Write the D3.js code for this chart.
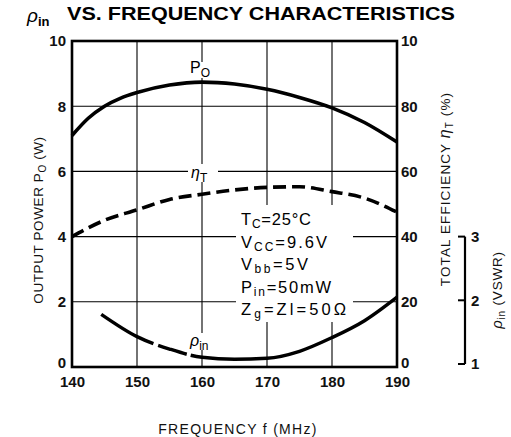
<!DOCTYPE html>
<html><head><meta charset="utf-8">
<script src="https://cdn.jsdelivr.net/npm/d3@7"></script>
<style>
body{margin:0;background:#fff;}
svg{display:block;font-family:"Liberation Sans",Arial,sans-serif;}
</style></head>
<body>
<svg id="c" width="511" height="437"></svg>
<script>
// ---- data ----
const xTicks = [140,150,160,170,180,190];
const leftTicks = [0,2,4,6,8,10];
const rightTickLabels = ["0","20","40","60","80","10"];
const vswrTicks = [1,2,3];

const poFreq = [140,142.5,145,147.5,150,155,160,165,170,175,180,185,190];
const poVal  = [7.1,7.63,8.0,8.25,8.42,8.65,8.74,8.68,8.52,8.27,7.95,7.5,6.9];

const etaFreq = [140,145,150,155,160,165,170,175,180,185,190];
const etaVal  = [40,45,48.2,51.4,53,54.3,55.1,55.3,53.8,51.8,47.5];

const rhoFreq = [144.5,150,155,160,165,170,175,180,185,190];
const rhoVal  = [1.78,1.43,1.235,1.105,1.075,1.09,1.2,1.415,1.68,2.05];

// ---- scales ----
const svg = d3.select("#c");
const x = d3.scaleLinear().domain([140,190]).range([72,397]);
const y = d3.scaleLinear().domain([0,10]).range([367,41]);
const yEta = d3.scaleLinear().domain([0,100]).range([367,41]);
const yV = d3.scaleLinear().domain([1,3]).range([y(0)-3,y(4)]);

// gridlines
const g = svg.append("g");
g.selectAll("line.v").data(xTicks.slice(1,-1)).join("line")
  .attr("x1",d=>x(d)).attr("x2",d=>x(d)).attr("y1",y(10)).attr("y2",y(0))
  .attr("stroke","#000").attr("stroke-width",1.1);
g.selectAll("line.h").data(leftTicks.slice(1,-1)).join("line")
  .attr("x1",x(140)).attr("x2",x(190)).attr("y1",d=>y(d)).attr("y2",d=>y(d))
  .attr("stroke","#000").attr("stroke-width",1.1);

// white label backgrounds breaking gridlines
const bg = [[236,205,117,117],[188,62,28,16],[188,164,30,18],[188,333,30,17]];
svg.selectAll("rect.bg").data(bg).join("rect")
  .attr("x",d=>d[0]).attr("y",d=>d[1]).attr("width",d=>d[2]).attr("height",d=>d[3]).attr("fill","#fff");

// frame
svg.append("rect").attr("x",x(140)).attr("y",y(10)).attr("width",x(190)-x(140)).attr("height",y(0)-y(10))
  .attr("fill","none").attr("stroke","#000").attr("stroke-width",2.6);

function styleTicks(s){
  s.select(".domain").remove();
  s.selectAll("text").attr("font-size",15).attr("font-weight","bold").attr("fill","#111");
}
// axes via d3
const axL = d3.axisLeft(y).tickValues(leftTicks).tickSize(0).tickPadding(6).tickFormat(d3.format("d"));
svg.append("g").attr("transform",`translate(${x(140)},0)`).call(axL).call(styleTicks)
  .selectAll("text").filter(d=>d===0).attr("dy","0.0em");
const axR = d3.axisRight(yEta).tickValues([0,20,40,60,80,100]).tickSize(0).tickPadding(4)
  .tickFormat((d,i)=>rightTickLabels[i]);
svg.append("g").attr("transform",`translate(${x(190)},0)`).call(axR).call(styleTicks)
  .selectAll("text").filter(d=>d===0).attr("dy","0.0em");
const axB = d3.axisBottom(x).tickValues(xTicks).tickSize(0).tickPadding(9).tickFormat(d3.format("d"));
svg.append("g").attr("transform",`translate(0,${y(0)})`).call(axB).call(styleTicks);

// VSWR axis
const axV = d3.axisRight(yV).tickValues(vswrTicks).tickSize(0).tickPadding(6).tickFormat(d3.format("d"));
const gv = svg.append("g").attr("transform","translate(465,0)").call(axV);
gv.select(".domain").remove();
gv.selectAll("text").attr("font-size",15).attr("font-weight","bold").attr("fill","#111");
gv.append("line").attr("x1",0).attr("x2",0).attr("y1",yV(1)).attr("y2",yV(3)).attr("stroke","#000").attr("stroke-width",2.2);
gv.selectAll("line.t").data(vswrTicks).join("line").attr("x1",-7).attr("x2",0)
  .attr("y1",d=>yV(d)).attr("y2",d=>yV(d)).attr("stroke","#000").attr("stroke-width",2);

// curves
const line = (xs,ys,sy)=>d3.line().curve(d3.curveMonotoneX).x((d,i)=>x(xs[i])).y(d=>sy(d))(ys);
svg.append("path").attr("d",line(poFreq,poVal,y)).attr("fill","none").attr("stroke","#000").attr("stroke-width",3.6);
svg.append("path").attr("d",line(etaFreq,etaVal,yEta)).attr("fill","none").attr("stroke","#000").attr("stroke-width",3.6)
  .attr("stroke-dasharray","13,6");
svg.append("path").attr("d",line(rhoFreq,rhoVal,yV)).attr("fill","none").attr("stroke","#000").attr("stroke-width",3.4)
  .attr("stroke-dasharray","60,5,30,4,400,5,14,5,400");

// curve labels
function lab(px,py,main,sub,italic){
  const t=svg.append("text").attr("x",px).attr("y",py).attr("font-size",16).attr("fill","#000");
  t.append("tspan").text(main).attr("font-style",italic?"italic":"normal");
  t.append("tspan").text(sub).attr("font-size",12).attr("dy",4);
}
lab(190,73,"P","O",false);
lab(191,178,"η","T",true);
lab(190,346,"ρ","in",true);

// conditions block
const cond = [["T","C","=25°C"],["V","CC","=9.6V"],["V","bb","=5V"],["P","in","=50mW"],["Z","g","=Zl=50Ω"]];
const condW = [70,86,67,90,105];
const cg = svg.append("g");
cond.forEach((c,i)=>{
  const t=cg.append("text").attr("x",241).attr("y",225+i*22.6).attr("font-size",16.5).attr("fill","#000")
    .attr("textLength",condW[i]).attr("lengthAdjust","spacing");
  t.append("tspan").text(c[0]);
  t.append("tspan").text(c[1]).attr("font-size",12).attr("dy",3);
  t.append("tspan").text(c[2]).attr("dy",-3);
});

// title
const tt = svg.append("text").attr("x",27).attr("y",22).attr("fill","#000");
tt.append("tspan").text("ρ").attr("font-style","italic").attr("font-size",19);
tt.append("tspan").text("in").attr("font-size",13).attr("font-weight","bold").attr("dy",4);
svg.append("text").attr("x",67).attr("y",20).attr("font-size",18.5).attr("font-weight","bold")
  .attr("textLength",388).attr("lengthAdjust","spacingAndGlyphs").text("VS. FREQUENCY CHARACTERISTICS");

// axis titles
const lt = svg.append("text").attr("transform","translate(43,220) rotate(-90)").attr("text-anchor","middle")
  .attr("font-size",13.5).attr("fill","#111").attr("letter-spacing",0.6);
lt.append("tspan").text("OUTPUT POWER P");
lt.append("tspan").text("O").attr("font-size",10).attr("dy",3);
lt.append("tspan").text(" (W)").attr("dy",-3);

const rt = svg.append("text").attr("transform","translate(450,189) rotate(-90)").attr("text-anchor","middle")
  .attr("font-size",13.5).attr("fill","#111").attr("letter-spacing",1.1);
rt.append("tspan").text("TOTAL EFFICIENCY ");
rt.append("tspan").text("η").attr("font-style","italic").attr("font-size",16);
rt.append("tspan").text("T").attr("font-size",10).attr("dy",3);
rt.append("tspan").text("   (%)").attr("dy",-3);

const vt = svg.append("text").attr("transform","translate(502,290) rotate(-90)").attr("text-anchor","middle")
  .attr("font-size",13.5).attr("fill","#111").attr("letter-spacing",0.8);
vt.append("tspan").text("ρ").attr("font-style","italic").attr("font-size",15);
vt.append("tspan").text("in").attr("font-size",10).attr("dy",3);
vt.append("tspan").text("  (VSWR)").attr("dy",-3);

svg.append("text").attr("x",238).attr("y",434).attr("text-anchor","middle").attr("font-size",14)
  .attr("fill","#111").attr("letter-spacing",1.3).text("FREQUENCY  f  (MHz)");
</script>
</body></html>
